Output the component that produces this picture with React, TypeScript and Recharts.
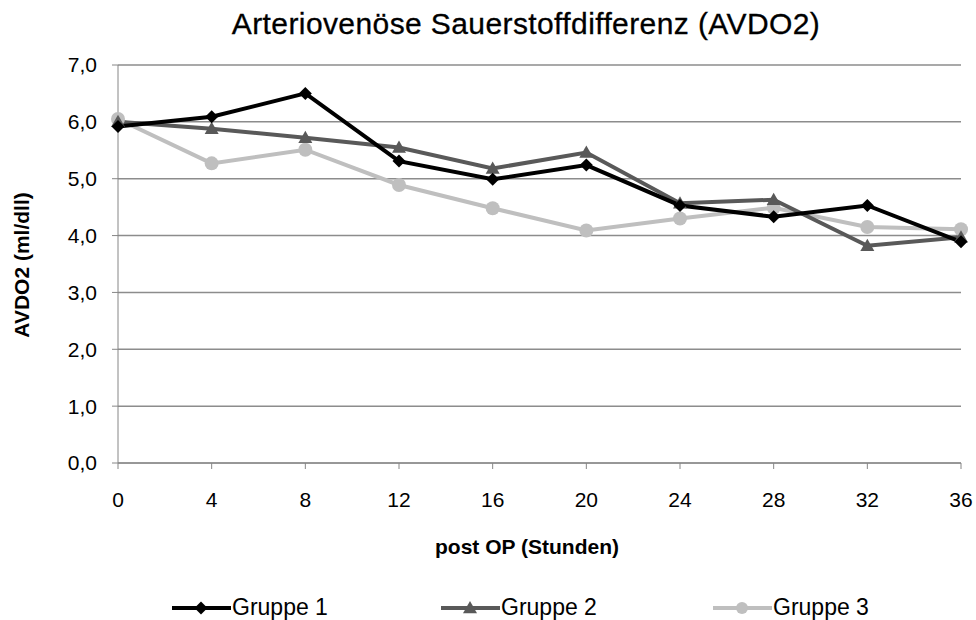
import { CartesianGrid, Line, LineChart, XAxis, YAxis } from "recharts";

const hours = [0, 4, 8, 12, 16, 20, 24, 28, 32, 36];
const gruppe1 = [5.92, 6.09, 6.5, 5.31, 4.99, 5.24, 4.53, 4.33, 4.53, 3.89];
const gruppe2 = [6.0, 5.88, 5.72, 5.55, 5.18, 5.46, 4.57, 4.63, 3.82, 3.97];
const gruppe3 = [6.05, 5.27, 5.51, 4.89, 4.48, 4.09, 4.3, 4.49, 4.15, 4.11];
const yTicks = [0, 1, 2, 3, 4, 5, 6, 7];

const data = hours.map((h, i) => ({ h, g1: gruppe1[i], g2: gruppe2[i], g3: gruppe3[i] }));

const font = '"Liberation Sans", Arial, sans-serif';
const c1 = "#000000";
const c2 = "#595959";
const c3 = "#bfbfbf";

function Diamond({ cx, cy, color, s = 6.5 }: any) {
  return <path d={`M${cx},${cy - s}L${cx + s},${cy}L${cx},${cy + s}L${cx - s},${cy}Z`} fill={color} />;
}
function Triangle({ cx, cy, color, s = 7 }: any) {
  return <path d={`M${cx},${cy - s}L${cx + s},${cy + s * 0.75}L${cx - s},${cy + s * 0.75}Z`} fill={color} />;
}

const legendItems = [
  { name: "Gruppe 1", color: c1, shape: "diamond", x: 172 },
  { name: "Gruppe 2", color: c2, shape: "triangle", x: 441 },
  { name: "Gruppe 3", color: c3, shape: "circle", x: 713 },
];

export default function App() {
  return (
    <div style={{ position: "absolute", left: 0, top: 0, width: 976, height: 620, background: "#fff", fontFamily: font }}>
      <div
        style={{
          position: "absolute",
          left: 0,
          width: 1052,
          top: 7,
          textAlign: "center",
          fontSize: 30,
          letterSpacing: 0.4,
          color: "#000",
          WebkitTextStroke: "0.3px #000",
        }}
      >
        Arteriovenöse Sauerstoffdifferenz (AVDO2)
      </div>
      <div
        style={{
          position: "absolute",
          left: 22,
          top: 265,
          transform: "translate(-50%, -50%) rotate(-90deg)",
          whiteSpace: "nowrap",
          fontSize: 21,
          fontWeight: "bold",
        }}
      >
        AVDO2 (ml/dll)
      </div>
      <div style={{ position: "absolute", left: 0, width: 1054, top: 535, textAlign: "center", fontSize: 21, fontWeight: "bold" }}>
        post OP (Stunden)
      </div>
      <LineChart width={976} height={620} data={data} margin={{ top: 65, right: 15, bottom: 60, left: 0 }}>
        <CartesianGrid vertical={false} stroke="#8c8c8c" strokeWidth={1.5} />
        <XAxis
          dataKey="h"
          type="number"
          domain={[0, 36]}
          ticks={hours}
          height={97}
          stroke="#868686"
          tickSize={6}
          tickMargin={23}
          tick={{ fill: "#000", fontSize: 21, fontFamily: font }}
        />
        <YAxis
          type="number"
          domain={[0, 7]}
          ticks={yTicks}
          width={118}
          stroke="#868686"
          tickSize={6}
          tickMargin={15}
          tickFormatter={(v) => Number(v).toFixed(1).replace(".", ",")}
          tick={{ fill: "#000", fontSize: 21, fontFamily: font }}
        />
        <Line
          dataKey="g3"
          stroke={c3}
          strokeWidth={4}
          isAnimationActive={false}
          dot={(p: any) => <circle key={`g3-${p.index}`} cx={p.cx} cy={p.cy} r={7} fill={c3} />}
        />
        <Line
          dataKey="g2"
          stroke={c2}
          strokeWidth={4}
          isAnimationActive={false}
          dot={(p: any) => <Triangle key={`g2-${p.index}`} cx={p.cx} cy={p.cy} color={c2} />}
        />
        <Line
          dataKey="g1"
          stroke={c1}
          strokeWidth={4}
          isAnimationActive={false}
          dot={(p: any) => <Diamond key={`g1-${p.index}`} cx={p.cx} cy={p.cy} color={c1} />}
        />
      </LineChart>
      {legendItems.map((it) => (
        <div key={it.name} style={{ position: "absolute", left: it.x, top: 594, display: "flex", alignItems: "center", fontSize: 23 }}>
          <svg width={60} height={24}>
            <line x1={0} y1={12} x2={59} y2={12} stroke={it.color} strokeWidth={4} />
            {it.shape === "diamond" && <Diamond cx={29} cy={12} color={it.color} />}
            {it.shape === "triangle" && <Triangle cx={29} cy={12} color={it.color} />}
            {it.shape === "circle" && <circle cx={29} cy={12} r={6} fill={it.color} />}
          </svg>
          <span style={{ marginLeft: 0 }}>{it.name}</span>
        </div>
      ))}
    </div>
  );
}
